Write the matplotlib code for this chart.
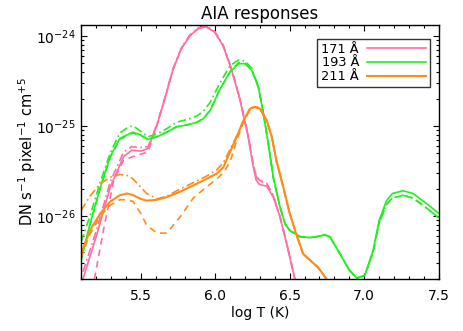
import numpy as np
import matplotlib
matplotlib.use("Agg")
import matplotlib.pyplot as plt
from matplotlib.ticker import FixedLocator, LogLocator, NullFormatter

# ---- data: log10 response vs log T ----
t171 = [5.113, 5.207, 5.296, 5.386, 5.44, 5.50, 5.55, 5.61, 5.662, 5.718, 5.774, 5.83,
        5.886, 5.94, 5.997, 6.053, 6.109, 6.165, 6.22, 6.254, 6.275, 6.296, 6.346, 6.39,
        6.435, 6.48, 6.535]
r171_solid = [-26.70, -26.20, -25.68, -25.34, -25.27, -25.28, -25.25, -24.99, -24.70,
              -24.37, -24.14, -24.00, -23.92, -23.90, -23.96, -24.11, -24.37, -24.70,
              -25.11, -25.44, -25.60, -25.65, -25.67, -25.79, -26.01, -26.31, -26.70]
r171_dashdot = [-26.62, -26.14, -25.62, -25.29, -25.23, -25.24, -25.23, -24.98, -24.69,
                -24.36, -24.13, -23.99, -23.91, -23.89, -23.95, -24.10, -24.36, -24.69,
                -25.09, -25.41, -25.56, -25.61, -25.64, -25.77, -26.00, -26.30, -26.70]
t171_dash = [5.19, 5.25, 5.32, 5.386, 5.45, 5.55, 5.61, 5.662, 5.718, 5.774, 5.83, 5.886,
             5.94, 5.997, 6.053, 6.109, 6.165, 6.22, 6.254, 6.275, 6.296, 6.346, 6.39,
             6.435, 6.48, 6.535]
r171_dash = [-26.70, -26.16, -25.60, -25.38, -25.34, -25.29, -24.99, -24.70, -24.37,
             -24.14, -24.00, -23.92, -23.90, -23.96, -24.11, -24.37, -24.70, -25.10,
             -25.42, -25.55, -25.60, -25.64, -25.78, -26.01, -26.31, -26.70]

t193 = [5.10, 5.16, 5.23, 5.296, 5.36, 5.42, 5.45, 5.50, 5.55, 5.61, 5.676, 5.74, 5.81,
        5.877, 5.92, 5.966, 6.03, 6.10, 6.156, 6.20, 6.245, 6.29, 6.32, 6.357, 6.39,
        6.435, 6.47, 6.50, 6.57, 6.636, 6.68, 6.736, 6.77, 6.837, 6.90, 6.95, 7.004,
        7.06, 7.10, 7.15, 7.19, 7.26, 7.327, 7.417, 7.50]
r193_solid = [-26.49, -26.09, -25.68, -25.34, -25.14, -25.09, -25.07, -25.10, -25.15,
              -25.12, -25.07, -25.01, -24.99, -24.96, -24.92, -24.83, -24.60, -24.40,
              -24.31, -24.31, -24.38, -24.57, -24.83, -25.20, -25.57, -25.90, -26.09,
              -26.16, -26.23, -26.24, -26.23, -26.21, -26.23, -26.42, -26.60, -26.69,
              -26.66, -26.38, -26.05, -25.83, -25.75, -25.72, -25.75, -25.86, -25.97]
r193_dashdot = [-26.29, -26.00, -25.62, -25.30, -25.08, -25.01, -25.00, -25.06, -25.12,
                -25.09, -25.03, -24.96, -24.93, -24.89, -24.84, -24.74, -24.53, -24.33,
                -24.27, -24.28, -24.36, -24.56, -24.82, -25.20, -25.57, -25.90, -26.09,
                -26.16, -26.23, -26.24, -26.23, -26.21, -26.23, -26.42, -26.60, -26.69,
                -26.66, -26.40, -26.08, -25.87, -25.80, -25.77, -25.80, -25.91, -26.02]
r193_dash = [-26.50, -26.10, -25.69, -25.35, -25.15, -25.10, -25.08, -25.11, -25.15,
             -25.12, -25.07, -25.01, -24.99, -24.96, -24.92, -24.83, -24.60, -24.40,
             -24.30, -24.30, -24.38, -24.57, -24.83, -25.20, -25.57, -25.90, -26.09,
             -26.16, -26.23, -26.24, -26.23, -26.21, -26.23, -26.42, -26.60, -26.69,
             -26.66, -26.40, -26.08, -25.87, -25.80, -25.77, -25.80, -25.91, -26.02]

t211 = [5.10, 5.16, 5.23, 5.296, 5.36, 5.41, 5.45, 5.50, 5.54, 5.61, 5.676, 5.765, 5.854,
        5.94, 6.01, 6.055, 6.10, 6.145, 6.19, 6.234, 6.267, 6.30, 6.346, 6.38, 6.41,
        6.457, 6.50, 6.546, 6.59, 6.636, 6.69, 6.747]
r211_solid = [-26.42, -26.16, -25.97, -25.84, -25.77, -25.75, -25.77, -25.81, -25.83,
              -25.82, -25.79, -25.73, -25.66, -25.59, -25.53, -25.46, -25.29, -25.12,
              -24.94, -24.81, -24.79, -24.81, -24.94, -25.12, -25.38, -25.68, -25.97,
              -26.21, -26.42, -26.49, -26.57, -26.70]
r211_dashdot = [-25.94, -25.78, -25.64, -25.57, -25.54, -25.55, -25.59, -25.68, -25.75,
                -25.81, -25.78, -25.70, -25.63, -25.56, -25.49, -25.41, -25.26, -25.11,
                -24.94, -24.81, -24.78, -24.80, -24.94, -25.12, -25.38, -25.68, -25.97,
                -26.21, -26.42, -26.49, -26.57, -26.70]
r211_dash = [-26.46, -26.20, -26.00, -25.88, -25.82, -25.82, -25.84, -25.97, -26.10,
             -26.19, -26.19, -26.01, -25.80, -25.68, -25.59, -25.52, -25.40, -25.16,
             -24.96, -24.82, -24.79, -24.81, -24.94, -25.12, -25.38, -25.68, -25.97,
             -26.21, -26.42, -26.49, -26.57, -26.70]

labels = ["171 Å", "193 Å", "211 Å"]
colors = ["#ff6fa0", "#22ee22", "#ff8c1a"]
xticks = [5.5, 6.0, 6.5, 7.0, 7.5]
xticklabels = ["5.5", "6.0", "6.5", "7.0", "7.5"]
yticks = [1e-26, 1e-25, 1e-24]

plt.rcParams["font.family"] = ["DejaVu Sans"]
fig = plt.figure(figsize=(4.63, 3.31), dpi=100)
ax = fig.add_axes([0.175, 0.157, 0.7725, 0.7675])

def p(a):
    return 10.0 ** np.asarray(a)

lw = 1.2
dash = (0, (4, 3))
dashdot = (0, (5, 2, 1, 2))

ax.plot(t171, p(r171_dashdot), color=colors[0], lw=lw, ls=dashdot)
ax.plot(t171_dash, p(r171_dash), color=colors[0], lw=lw, ls=dash)
h1, = ax.plot(t171, p(r171_solid), color=colors[0], lw=lw)

ax.plot(t193, p(r193_dashdot), color=colors[1], lw=lw, ls=dashdot)
ax.plot(t193, p(r193_dash), color=colors[1], lw=lw, ls=dash)
h2, = ax.plot(t193, p(r193_solid), color=colors[1], lw=lw)

ax.plot(t211, p(r211_dashdot), color=colors[2], lw=lw, ls=dashdot)
ax.plot(t211, p(r211_dash), color=colors[2], lw=lw, ls=dash)
h3, = ax.plot(t211, p(r211_solid), color=colors[2], lw=1.5)

ax.set_yscale("log")
ax.set_xlim(5.1, 7.5)
ax.set_ylim(10 ** -26.7, 10 ** -23.88)

ax.xaxis.set_major_locator(FixedLocator(xticks))
ax.set_xticklabels(xticklabels)
ax.xaxis.set_minor_locator(FixedLocator(np.arange(5.1, 7.51, 0.1)))
ax.yaxis.set_major_locator(FixedLocator(yticks))
ax.yaxis.set_minor_locator(LogLocator(base=10, subs=np.arange(2, 10), numticks=20))
ax.yaxis.set_minor_formatter(NullFormatter())

ax.tick_params(which="both", direction="in", top=True, right=True, labelsize=10)
ax.tick_params(which="major", length=4.5, width=0.8)
ax.tick_params(which="minor", length=2.5, width=0.8)
ax.tick_params(axis="x", pad=7)
ax.tick_params(axis="y", pad=4)
for s in ax.spines.values():
    s.set_linewidth(1.0)

ax.set_xlabel("log T (K)", fontsize=10, labelpad=2)
ax.set_ylabel(r"DN s$^{-1}$ pixel$^{-1}$ cm$^{+5}$", fontsize=10.5)
ax.yaxis.set_label_coords(-0.12, 0.5)
ax.set_title("AIA responses", fontsize=12, pad=4)

leg = ax.legend([h1, h2, h3], labels, loc="upper right", markerfirst=False,
                handlelength=4.6, fontsize=9.3, frameon=True, fancybox=False,
                borderaxespad=0.0, labelspacing=0.05, handletextpad=0.6,
                borderpad=0.3, bbox_to_anchor=(0.9757, 0.945))
leg.get_frame().set_edgecolor("black")
leg.get_frame().set_linewidth(1.0)

fig.savefig("out.png", dpi=100)
